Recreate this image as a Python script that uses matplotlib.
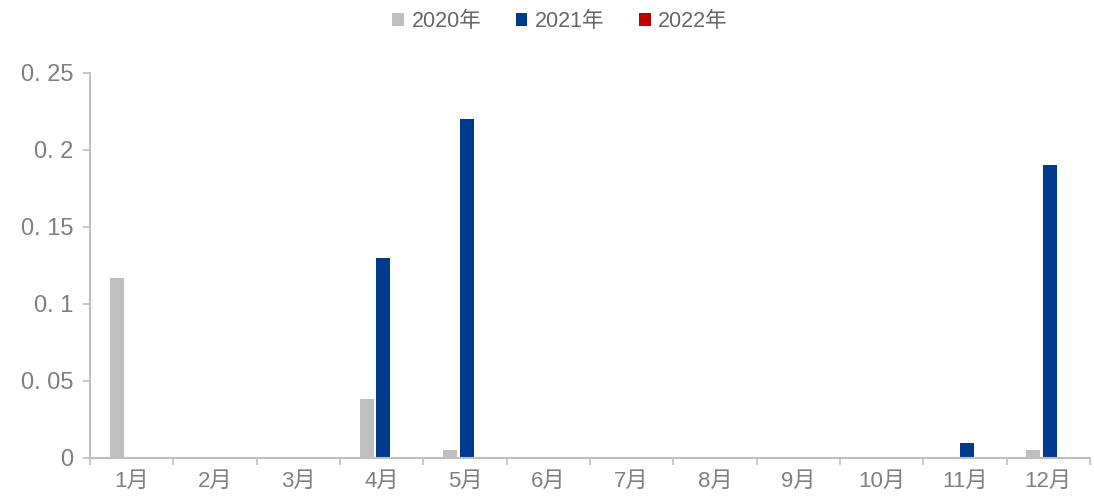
import matplotlib.pyplot as plt
import numpy as np

plt.rcParams['font.family'] = ['Liberation Sans', 'Noto Sans CJK SC', 'DejaVu Sans']

# Data
months = ['1月', '2月', '3月', '4月', '5月', '6月', '7月', '8月', '9月', '10月', '11月', '12月']
y2020 = [0.117, 0, 0, 0.038, 0.005, 0, 0, 0, 0, 0, 0, 0.005]
y2021 = [0, 0, 0, 0.13, 0.22, 0, 0, 0, 0, 0, 0.01, 0.19]
y2022 = [0, 0, 0, 0, 0, 0, 0, 0, 0, 0, 0, 0]
series_names = ['2020年', '2021年', '2022年']
yticks = [0, 0.05, 0.1, 0.15, 0.2, 0.25]
ytick_labels = ['0', '0. 05', '0. 1', '0. 15', '0. 2', '0. 25']

colors = ['#bfbfbf', '#003a8c', '#c00000']
grey = '#7f7f7f'

fig = plt.figure(figsize=(10.94, 5.03), dpi=100)
ax = fig.add_axes([0.0823, 0.0895, 0.914, 0.7654])

x = np.arange(len(months))
width = 0.17
offset = 0.2
for i, (vals, name) in enumerate(zip([y2020, y2021, y2022], series_names)):
    ax.bar(x + (i - 1) * offset + 0.02, vals, width, color=colors[i], label=name)

ax.set_xlim(-0.5, len(months) - 0.5)
ax.set_ylim(0, 0.25)
ax.set_yticks(yticks)
ax.set_yticklabels(ytick_labels)
ax.set_xticks(x)
ax.set_xticklabels(months)
# category boundary ticks
ax.set_xticks(np.arange(-0.5, len(months), 1), minor=True)
ax.tick_params(axis='x', which='major', length=0, pad=9, labelsize=16, colors=grey)
ax.tick_params(axis='x', which='minor', length=5, color='#bfbfbf', width=1.2)
ax.tick_params(axis='y', length=5, color='#bfbfbf', width=1.2, labelsize=17,
               labelcolor=grey, pad=7)

for s in ['top', 'right']:
    ax.spines[s].set_visible(False)
for s in ['left', 'bottom']:
    ax.spines[s].set_color('#bfbfbf')
    ax.spines[s].set_linewidth(1.5)

leg = ax.legend(loc='lower center', bbox_to_anchor=(0.47, 1.085), ncol=3, frameon=False,
                fontsize=15.5, handlelength=0.55, handleheight=0.55, handletextpad=0.35,
                columnspacing=1.6, borderaxespad=0)
for t in leg.get_texts():
    t.set_color('#666666')

plt.savefig('out.png', dpi=100)
